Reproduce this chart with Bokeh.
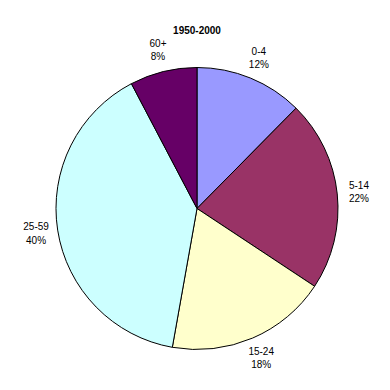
import math
from bokeh.plotting import figure
from bokeh.models import Range1d, ColumnDataSource
from bokeh.core.properties import value
from bokeh.embed import file_html
from bokeh.resources import INLINE

title = "1950-2000"
categories = ["0-4", "5-14", "15-24", "25-59", "60+"]
shares = [12.4, 21.9, 18.5, 39.5, 7.7]
pct_labels = ["12%", "22%", "18%", "40%", "8%"]
colors = ["#9999FF", "#993366", "#FFFFCC", "#CCFFFF", "#660066"]

W = H = 390
cx, cy = 196.5, H - 208.0
R = 141.0
label_r = R * 1.155

total = float(sum(shares))
starts, ends, lx, ly, texts = [], [], [], [], []
cum = 0.0
for cat, s, pl in zip(categories, shares, pct_labels):
    a0 = math.pi / 2 - 2 * math.pi * cum / total
    a1 = math.pi / 2 - 2 * math.pi * (cum + s) / total
    starts.append(a1)
    ends.append(a0)
    mid = (a0 + a1) / 2
    lx.append(cx + label_r * math.cos(mid))
    ly.append(cy + label_r * math.sin(mid))
    texts.append(f"{cat}\n{pl}")
    cum += s

src = ColumnDataSource(dict(start=starts, end=ends, color=colors,
                            x=[cx] * len(shares), y=[cy] * len(shares)))
lab = ColumnDataSource(dict(x=lx, y=ly, text=texts))

p = figure(width=W, height=H, x_range=Range1d(0, W), y_range=Range1d(0, H),
           output_backend="svg", toolbar_location=None, min_border=0)
p.axis.visible = False
p.grid.visible = False
p.outline_line_color = None

p.wedge(x="x", y="y", radius=R, start_angle="start", end_angle="end",
        fill_color="color", line_color="black", line_width=1, source=src)

p.text(x="x", y="y", text="text", source=lab, text_align="center",
       text_baseline="middle", text_font=value("Liberation Sans"),
       text_font_size="10px", text_color="black", text_line_height=1.2)

p.text(x=[cx], y=[H - 29.5], text=[title], text_align="center",
       text_baseline="middle", text_font=value("Liberation Sans"),
       text_font_size="10px", text_font_style="bold", text_color="black")

open("out.html", "w").write(file_html(p, INLINE))
